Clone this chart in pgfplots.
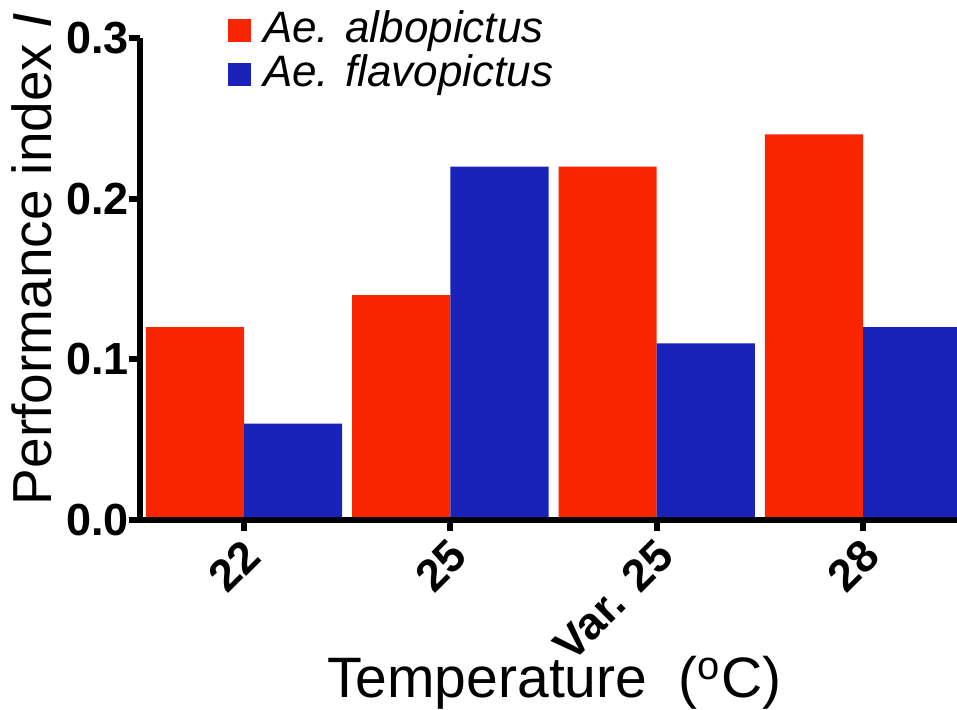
\documentclass[border=0pt]{standalone}
\usepackage{fontspec}
\setmainfont{Liberation Sans}
\usepackage{pgfplots}
\pgfplotsset{compat=1.18}
\definecolor{albo}{RGB}{247,37,0}
\definecolor{flavo}{RGB}{25,35,185}

\begin{document}
\begin{tikzpicture}
\begin{axis}[
  name=ax,
  scale only axis, width=408.5pt, height=241pt,
  ybar=0pt, bar width=0.476,
  xmin=-0.504, xmax=3.455,
  ymin=0, ymax=0.3,
  axis x line*=bottom, axis y line*=left,
  axis line style={-, line width=3pt},
  axis on top,
  tick align=outside, major tick length=5.5pt,
  every tick/.style={black, line width=3pt},
  xtick={0,1,2,3}, xticklabels={22,25,Var. 25,28},
  ytick={0,0.1,0.2,0.3},
  /pgf/number format/fixed, /pgf/number format/fixed zerofill,
  /pgf/number format/precision=1, /pgf/number format/assume math mode=true,
  tick label style={font=\fontsize{22.5}{22.5}\selectfont\bfseries},
  xticklabel style={rotate=45, anchor=east, inner sep=0pt, yshift=-9pt, xshift=-3pt},
  yticklabel style={anchor=east, inner sep=0pt},
  xlabel={Temperature\ \ (\textsuperscript{o}C)},
  ylabel={Performance index \textit{I}},
  xlabel style={font=\fontsize{28.5}{30}\selectfont, at={(axis description cs:0.507,-0.369)}, anchor=base, inner sep=0pt},
  ylabel style={font=\fontsize{27.5}{30}\selectfont, at={(axis description cs:-0.1077,0.5415)}, anchor=south, inner sep=0pt},
  legend style={at={(rel axis cs:0.1,1.066)}, anchor=north west, draw=none, fill=none,
    font=\fontsize{22}{22}\selectfont, column sep=6pt,
    nodes={inner sep=0pt, text height=16pt, text depth=6pt}},
  legend cell align=left,
  legend image code/.code={\fill[#1] (0pt,-4.5pt) rectangle (11.5pt,7pt);},
]
\addplot[fill=albo, draw=none] coordinates {(0,0.12) (1,0.14) (2,0.22) (3,0.24)};
\addplot[fill=flavo, draw=none] coordinates {(0,0.06) (1,0.22) (2,0.11) (3,0.12)};
\legend{\textit{Ae. albopictus}, \textit{Ae. flavopictus}}
\end{axis}
\pgfresetboundingbox
\useasboundingbox ([xshift=-70pt,yshift=-94.5pt]ax.south west) rectangle ++(478.5pt,354.5pt);
\end{tikzpicture}
\end{document}
